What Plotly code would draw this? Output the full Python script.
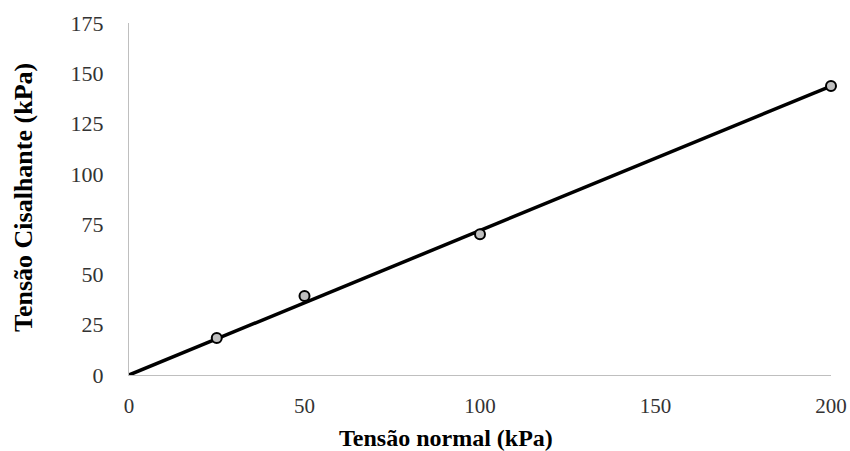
import numpy as np
import plotly.graph_objects as go

tensao_normal = [25, 50, 100, 200]
tensao_cisalhante = [18.4, 39.3, 70.0, 143.7]
x_ticks = [0, 50, 100, 150, 200]
y_ticks = [0, 25, 50, 75, 100, 125, 150, 175]

xa = np.array(tensao_normal, dtype=float)
ya = np.array(tensao_cisalhante, dtype=float)
slope = float((xa * ya).sum() / (xa * xa).sum())
trend_x = [0, 200]
trend_y = [0, slope * 200]

fig = go.Figure()
fig.add_trace(go.Scatter(x=trend_x, y=trend_y, mode="lines",
                         line=dict(color="black", width=3.5), showlegend=False))
fig.add_trace(go.Scatter(x=tensao_normal, y=tensao_cisalhante, mode="markers",
                         marker=dict(size=10, color="#bfbfbf", line=dict(color="black", width=2)),
                         showlegend=False, cliponaxis=False))

font_fam = "Liberation Serif, Times New Roman, serif"
fig.update_layout(
    width=850, height=451,
    margin=dict(l=129, r=19, t=23, b=76, autoexpand=False),
    paper_bgcolor="white", plot_bgcolor="white",
    font=dict(family=font_fam, size=22, color="#333333"),
    xaxis=dict(range=[0, 200], tickvals=x_ticks, showgrid=False, zeroline=False,
               showline=True, linecolor="#bfbfbf", linewidth=1, ticks="", automargin=False,
               ticklabelstandoff=12, tickfont=dict(size=21, color="#333333")),
    yaxis=dict(range=[0, 175], tickvals=y_ticks, showgrid=False, zeroline=False,
               showline=True, linecolor="#bfbfbf", linewidth=1, ticks="", automargin=False,
               ticklabelstandoff=20, tickfont=dict(size=22, color="#333333")),
    annotations=[
        dict(text="<b>Tensão normal (kPa)</b>", xref="paper", yref="paper",
             x=(446 - 129) / 702, y=-(438 - 375) / 352, showarrow=False,
             font=dict(family=font_fam, size=24, color="black"),
             xanchor="center", yanchor="middle"),
        dict(text="<b>Tensão Cisalhante (kPa)</b>", xref="paper", yref="paper",
             x=-(129 - 23) / 702, y=(375 - 198) / 352, showarrow=False, textangle=-90,
             font=dict(family=font_fam, size=26, color="black"),
             xanchor="center", yanchor="middle"),
    ],
)
fig.write_html("out.html")
